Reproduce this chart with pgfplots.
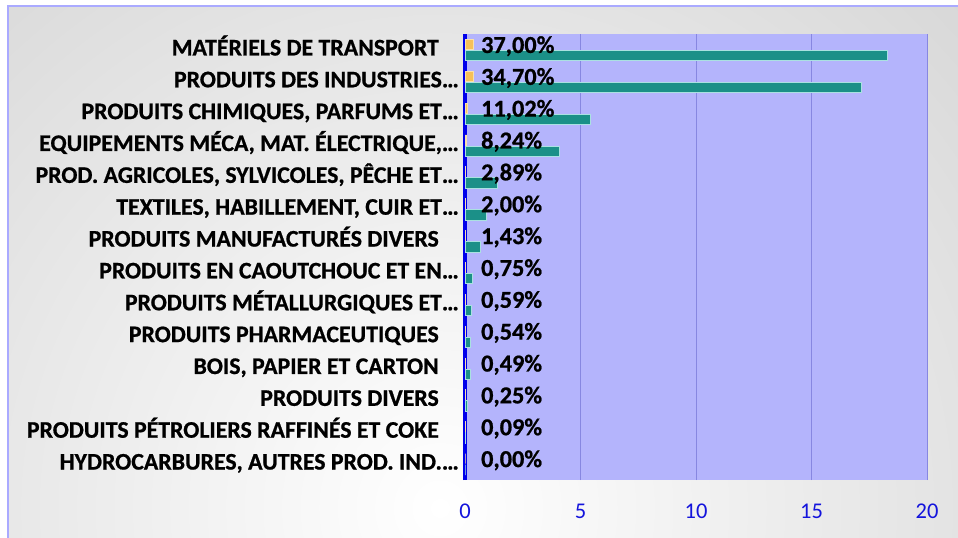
\documentclass[border=0pt]{standalone}
\usepackage{pgfplots}
\pgfplotsset{compat=1.18}
\usepackage{fontspec}
\setmainfont{Carlito}[BoldFeatures={FakeBold=0.8}]
\definecolor{plotbg}{RGB}{180,180,252}
\definecolor{tealbar}{RGB}{27,144,136}
\definecolor{tealedge}{RGB}{170,225,225}
\definecolor{orangebar}{RGB}{246,192,90}
\definecolor{orangeedge}{RGB}{250,225,170}
\definecolor{gridcol}{RGB}{135,135,225}
\definecolor{axisblue}{RGB}{0,0,235}
\definecolor{tickblue}{RGB}{20,20,220}
\definecolor{bggray}{RGB}{182,182,182}
\definecolor{framecol}{RGB}{170,170,255}
\begin{document}
\begin{tikzpicture}
\path[use as bounding box, fill=white] (0,0) rectangle (958bp,538bp);
\begin{scope}
\clip (8bp,0) rectangle (958bp,532bp);
\shade[inner color=white, outer color=bggray] (440bp,30bp) circle (1360bp);
\end{scope}
\draw[framecol, line width=1.5bp] (8bp,0) -- (8bp,532bp) -- (958bp,532bp);
\begin{axis}[
  at={(465bp,58bp)}, anchor=south west,
  width=462bp, height=446bp, scale only axis,
  xmin=0, xmax=20, ymin=-0.5, ymax=13.5,
  xtick={0,5,10,15,20},
  ytick={0,...,13},
  yticklabels={
    {HYDROCARBURES, AUTRES PROD. IND.…},
    {PRODUITS PÉTROLIERS RAFFINÉS ET COKE\kern20bp},
    {PRODUITS DIVERS\kern20bp},
    {BOIS, PAPIER ET CARTON\kern20bp},
    {PRODUITS PHARMACEUTIQUES\kern20bp},
    {PRODUITS MÉTALLURGIQUES ET…},
    {PRODUITS EN CAOUTCHOUC ET EN…},
    {PRODUITS MANUFACTURÉS DIVERS\kern20bp},
    {TEXTILES, HABILLEMENT, CUIR ET…},
    {PROD. AGRICOLES, SYLVICOLES, PÊCHE ET…},
    {EQUIPEMENTS MÉCA, MAT. ÉLECTRIQUE,…},
    {PRODUITS CHIMIQUES, PARFUMS ET…},
    {PRODUITS DES INDUSTRIES…},
    {MATÉRIELS DE TRANSPORT\kern20bp}},
  /pgf/number format/assume math mode=true,
  major tick length=0pt,
  axis lines*=left,
  x axis line style={draw=none},
  y axis line style={draw=axisblue, line width=3bp},
  axis background/.style={fill=plotbg},
  xmajorgrids,
  major grid style={draw=gridcol, line width=1bp},
  yticklabel style={anchor=base east, inner sep=0pt, xshift=-6bp, yshift=-5.5bp,
    font=\fontsize{23.8bp}{27bp}\selectfont\bfseries, text=black},
  xticklabel style={anchor=base, inner sep=0pt, yshift=-38bp,
    font=\fontsize{22.5bp}{26bp}\selectfont, text=tickblue},
  clip=false,
]
\addplot[xbar, bar width=10bp, bar shift=5.5bp, fill=orangebar, draw=orangeedge, line width=0.8bp]
  coordinates {(0.370,13) (0.347,12) (0.110,11) (0.082,10) (0.029,9) (0.020,8) (0.014,7)
               (0.008,6) (0.006,5) (0.005,4) (0.005,3) (0.003,2) (0.001,1) (0.000,0)};
\addplot[xbar, bar width=10.5bp, bar shift=-5.8bp, fill=tealbar, draw=tealedge, line width=1bp]
  coordinates {(18.30,13) (17.15,12) (5.43,11) (4.07,10) (1.41,9) (0.95,8) (0.69,7)
               (0.33,6) (0.26,5) (0.24,4) (0.22,3) (0.12,2) (0.04,1) (0.00,0)};
\addplot[draw=none, mark=none, point meta=explicit symbolic,
  nodes near coords={\pgfplotspointmeta\%},
  every node near coord/.style={anchor=base west, inner sep=0pt, yshift=-3bp,
    font=\fontsize{24.3bp}{27bp}\selectfont\bfseries, text=black}]
  coordinates {(0.69,13) [37,00] (0.69,12) [34,70] (0.69,11) [11,02] (0.69,10) [8,24]
               (0.69,9) [2,89] (0.69,8) [2,00] (0.69,7) [1,43] (0.69,6) [0,75]
               (0.69,5) [0,59] (0.69,4) [0,54] (0.69,3) [0,49] (0.69,2) [0,25]
               (0.69,1) [0,09] (0.69,0) [0,00]};
\end{axis}
\end{tikzpicture}
\end{document}
